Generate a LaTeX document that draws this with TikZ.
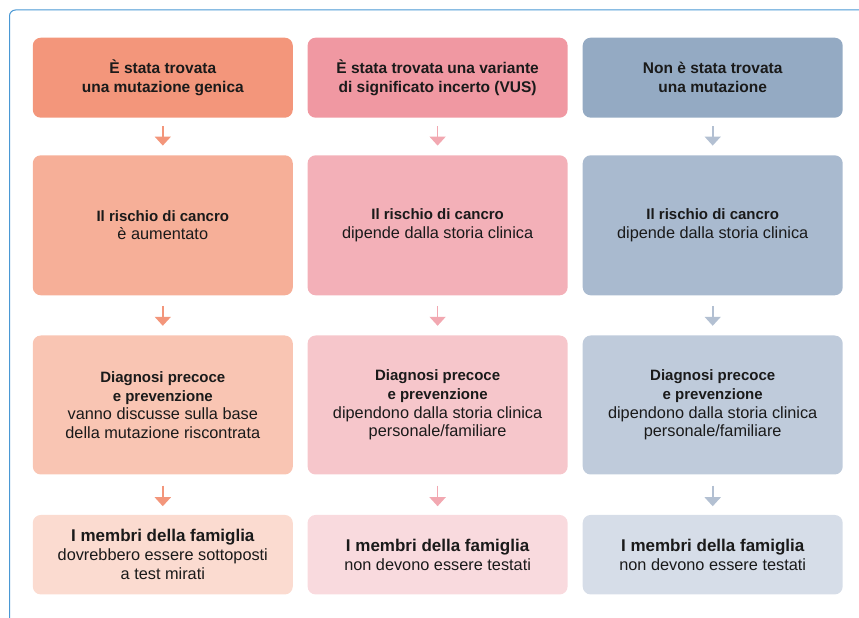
\documentclass[tikz,border=0pt]{standalone}
\usepackage{fontspec}
\setmainfont{Liberation Sans}
\usetikzlibrary{arrows.meta}
\definecolor{txt}{HTML}{1A1A1A}
\definecolor{frame}{HTML}{4A98D4}
\definecolor{oA}{HTML}{F3967B}\definecolor{oB}{HTML}{F6AF98}\definecolor{oC}{HTML}{F9C5B3}\definecolor{oD}{HTML}{FBDBD0}
\definecolor{pA}{HTML}{F098A2}\definecolor{pB}{HTML}{F3B0B8}\definecolor{pC}{HTML}{F6C6CB}\definecolor{pD}{HTML}{F9DADE}
\definecolor{gA}{HTML}{94AAC3}\definecolor{gB}{HTML}{A9BACF}\definecolor{gC}{HTML}{BFCBDB}\definecolor{gD}{HTML}{D6DDE8}
\definecolor{oArr}{HTML}{F3967B}\definecolor{pArr}{HTML}{F2A8B1}\definecolor{gArr}{HTML}{B3C0D2}
\newcommand\hb[1]{{\fontsize{15}{18.7}\selectfont\bfseries #1}}
\newcommand\hba[1]{{\fontsize{15.5}{19}\selectfont\bfseries #1}}
\newcommand\hbb[1]{{\fontsize{17}{19}\selectfont\bfseries #1}}
\begin{document}
\begin{tikzpicture}[x=1pt,y=1pt,
  cell/.style={rounded corners=8pt, minimum width=260pt, align=center, text=txt,
    inner sep=0pt, font={\fontsize{16.3}{18.7}\selectfont}},
  rowA/.style={cell, minimum height=80pt, font={\fontsize{15.5}{19}\selectfont}},
  rowB/.style={cell, minimum height=140pt},
  rowC/.style={cell, minimum height=139pt},
  rowD/.style={cell, minimum height=79.5pt, font={\fontsize{16.3}{19}\selectfont}},
  flow/.style={line width=1.6pt, -{Triangle[width=16pt,length=9pt]}}]
\useasboundingbox (0,0) rectangle (859,618);
% frame
\coordinate (fb) at (9.5,0);
\coordinate (fc) at (9.5,608);
\coordinate (fr) at (859,608);
\draw[frame, line width=1pt, rounded corners=6pt] (fb) -- (fc) -- (fr);
% column 1
\node[rowA, fill=oA] (a1) at (162.8,540.3) {\hba{È stata trovata}\\\hba{una mutazione genica}};
\node[rowB, fill=oB] (a2) at (162.8,392.7) {\hb{Il rischio di cancro}\\è aumentato};
\node[rowC, fill=oC] (a3) at (162.8,213) {\hb{Diagnosi precoce}\\\hb{e prevenzione}\\vanno discusse sulla base\\della mutazione riscontrata};
\node[rowD, fill=oD] (a4) at (162.8,63.3) {\hbb{I membri della famiglia}\\dovrebbero essere sottoposti\\a test mirati};
% column 2
\node[rowA, fill=pA] (b1) at (437.6,540.3) {\hba{È stata trovata una variante}\\\hba{di significato incerto (VUS)}};
\node[rowB, fill=pB] (b2) at (437.6,392.7) {\hb{Il rischio di cancro}\\dipende dalla storia clinica};
\node[rowC, fill=pC] (b3) at (437.6,213) {\hb{Diagnosi precoce}\\\hb{e prevenzione}\\dipendono dalla storia clinica\\personale/familiare};
\node[rowD, fill=pD] (b4) at (437.6,63.3) {\hbb{I membri della famiglia}\\non devono essere testati};
% column 3
\node[rowA, fill=gA] (c1) at (712.7,540.3) {\hba{Non è stata trovata}\\\hba{una mutazione}};
\node[rowB, fill=gB] (c2) at (712.7,392.7) {\hb{Il rischio di cancro}\\dipende dalla storia clinica};
\node[rowC, fill=gC] (c3) at (712.7,213) {\hb{Diagnosi precoce}\\\hb{e prevenzione}\\dipendono dalla storia clinica\\personale/familiare};
\node[rowD, fill=gD] (c4) at (712.7,63.3) {\hbb{I membri della famiglia}\\non devono essere testati};
% arrows
\foreach \n/\c in {a/oArr,b/pArr,c/gArr}{
  \draw[flow, \c, shorten <=8.5pt, shorten >=9.5pt] (\n1.south) -- (\n2.north);
  \draw[flow, \c, shorten <=10.5pt, shorten >=9.5pt] (\n2.south) -- (\n3.north);
  \draw[flow, \c, shorten <=11pt, shorten >=8.5pt] (\n3.south) -- (\n4.north);
}
\end{tikzpicture}
\end{document}
